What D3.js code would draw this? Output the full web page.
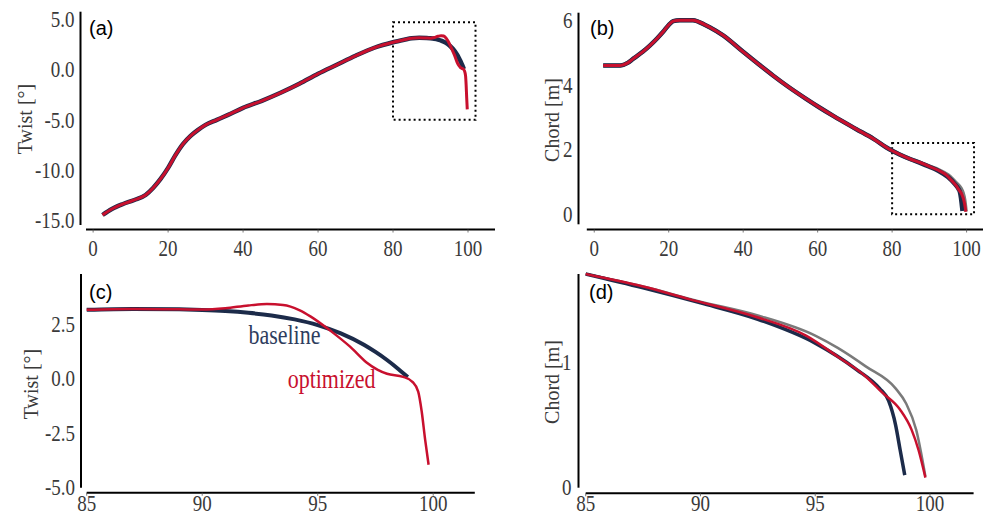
<!DOCTYPE html>
<html><head><meta charset="utf-8">
<script src="https://cdn.jsdelivr.net/npm/d3@7"></script>
<style>body{margin:0;background:#fff} svg{display:block}</style>
</head><body><svg id="c" width="983" height="516"></svg>
<script>
// ---------- data ----------
const twistRootX = [2.5, 5, 8, 11, 14, 16, 18, 20, 22, 24, 26, 28, 30, 33, 36, 40, 45, 50, 55, 60, 65, 70, 75, 80, 83, 85, 87, 89];
const twistRoot  = [-14.5, -13.9, -13.4, -13.0, -12.5, -11.8, -10.9, -9.8, -8.5, -7.4, -6.6, -6.0, -5.5, -5.0, -4.5, -3.8, -3.1, -2.3, -1.4, -0.4, 0.5, 1.4, 2.2, 2.75, 3.0, 3.15, 3.19, 3.17];
const twistBaseTipX = [90, 91, 92, 93, 94, 95, 96, 97, 97.5, 98, 98.5, 98.9];
const twistBaseTip  = [3.14, 3.09, 3.01, 2.89, 2.71, 2.45, 2.07, 1.55, 1.22, 0.85, 0.43, 0.07];
const twistOptTipX  = [90, 91, 92, 92.8, 93.5, 94.2, 94.7, 95.6, 96.4, 97.1, 97.6, 98.0, 98.7, 99.1, 99.35, 99.5, 99.65, 99.8];
const twistOptTip   = [3.16, 3.22, 3.35, 3.41, 3.37, 3.14, 2.84, 2.15, 1.46, 0.75, 0.40, 0.22, 0.08, -0.15, -0.6, -1.5, -2.8, -3.95];

const chordRootX = [2.4, 5, 7, 9, 10.5, 13, 15, 17, 18.5, 20, 21.2, 23, 26.5, 28, 31, 34.6, 40, 44, 48, 52, 57, 60.5, 64.2, 70.4, 75, 79.4, 82, 85];
const chordRoot  = [4.6, 4.6, 4.6, 4.68, 4.81, 5.02, 5.22, 5.45, 5.64, 5.85, 5.97, 6.0, 6.0, 5.95, 5.78, 5.53, 5.02, 4.65, 4.29, 3.95, 3.56, 3.3, 3.04, 2.63, 2.33, 2.0, 1.85, 1.70];
const chordBaseTipX = [87.5, 90, 92.5, 95, 96.8, 97.8, 98.2, 98.5, 98.7, 98.9];
const chordBaseTip  = [1.59, 1.47, 1.34, 1.15, 0.94, 0.79, 0.69, 0.50, 0.30, 0.10];
const chordOptTipX  = [87.5, 89.5, 92.4, 94.6, 96.0, 97.2, 97.9, 98.7, 99.2, 99.5, 99.8];
const chordOptTip   = [1.60, 1.50, 1.36, 1.21, 1.04, 0.885, 0.76, 0.62, 0.46, 0.30, 0.08];
const chordRefTipX  = [87.5, 90, 92.5, 95, 96, 97.2, 98.5, 98.96, 99.4, 99.8];
const chordRefTip   = [1.60, 1.48, 1.37, 1.21, 1.11, 0.965, 0.79, 0.67, 0.46, 0.09];

const xTicksFull = [0, 20, 40, 60, 80, 100];
const xTicksZoom = [85, 90, 95, 100];
const yTicksTwistFull = [-15, -10, -5, 0, 5];
const yTicksChordFull = [0, 2, 4, 6];
const yTicksTwistZoom = [-5, -2.5, 0, 2.5];
const yTicksChordZoom = [0, 1];
const zoomBoxTwist = [80, 102, -5, 4.75];
const zoomBoxChord = [80, 102, 0, 2.2];
const annotationText = ["baseline", "optimized"];
const annotationPos = [[92.0, 1.57], [93.7, -0.42]];
const panelLabels = ["(a)", "(b)", "(c)", "(d)"];

const NAVY = "#1c2b4a", RED = "#c8102e", GRAY = "#7a7a7a";
const SERIF = "'Liberation Serif', 'DejaVu Serif', serif";
const SANS = "'Liberation Sans', Arial, sans-serif";
const STRETCH = 1.22; // reference text is drawn slightly tall

const zip = (xs, ys) => xs.map((x, i) => [x, ys[i]]);
const twistBase = zip(twistRootX.concat(twistBaseTipX), twistRoot.concat(twistBaseTip));
const twistOpt  = zip(twistRootX.concat(twistOptTipX),  twistRoot.concat(twistOptTip));
const chordBase = zip(chordRootX.concat(chordBaseTipX), chordRoot.concat(chordBaseTip));
const chordOpt  = zip(chordRootX.concat(chordOptTipX),  chordRoot.concat(chordOptTip));
const chordRef  = zip(chordRootX.concat(chordRefTipX),  chordRoot.concat(chordRefTip));

const svg = d3.select("#c");

function tallText(g, x, y, txt) {
  return g.append("text").attr("transform", `translate(${x},${y}) scale(1,${STRETCH})`).text(txt);
}

function panel(p) {
  const g = svg.append("g");
  const x = d3.scaleLinear().domain(p.xDom).range(p.xRng);
  const y = d3.scaleLinear().domain(p.yDom).range(p.yRng);
  // spines
  g.append("line").attr("x1", p.spineX).attr("x2", p.spineX)
    .attr("y1", y(p.yDom[0])).attr("y2", y(p.yDom[1]))
    .attr("stroke", "#000").attr("stroke-width", 2);
  g.append("line").attr("x1", x(p.xDom[0])).attr("x2", x(p.xDom[1]))
    .attr("y1", p.axisY).attr("y2", p.axisY)
    .attr("stroke", "#000").attr("stroke-width", 2);
  // x ticks
  p.xTicks.forEach(t => {
    g.append("line").attr("x1", x(t)).attr("x2", x(t)).attr("y1", p.axisY).attr("y2", p.axisY + 3)
      .attr("stroke", "#555").attr("stroke-width", 0.8);
    tallText(g, x(t), p.xLabY, d3.format("d")(t)).attr("text-anchor", "middle")
      .attr("dominant-baseline", "central").attr("font-family", SERIF).attr("font-size", 19)
      .attr("fill", "#3a3a3a");
  });
  p.yTicks.forEach(t => {
    tallText(g, p.spineX - p.yLabGap, y(t), d3.format(p.yFmt)(t).replace("−", "-")).attr("text-anchor", "end")
      .attr("dominant-baseline", "central").attr("font-family", SERIF).attr("font-size", 19)
      .attr("fill", "#3a3a3a");
  });
  // y label
  g.append("text").attr("transform", `translate(${p.ylX},${p.ylY}) rotate(-90)`)
    .attr("text-anchor", "middle").attr("font-family", SERIF).attr("font-size", 20).attr("fill", "#3a3a3a")
    .text(p.ylabel);
  // zoom box
  if (p.box) {
    g.append("rect").attr("x", x(p.box[0])).attr("y", y(p.box[3]))
      .attr("width", x(p.box[1]) - x(p.box[0])).attr("height", y(p.box[2]) - y(p.box[3]))
      .attr("fill", "none").attr("stroke", "#000").attr("stroke-width", 2).attr("stroke-dasharray", "2,3");
  }
  const line = d3.line().x(d => x(d[0])).y(d => y(d[1])).curve(d3.curveMonotoneX);
  p.series.forEach(s => {
    const data = s.data.filter(d => d[0] >= p.xMin);
    g.append("path").datum(data).attr("d", line).attr("fill", "none")
      .attr("stroke", s.color).attr("stroke-width", s.w).attr("stroke-linecap", "butt").attr("stroke-linejoin", "round");
  });
  if (p.annot) {
    p.annot.forEach((a, i) => {
      tallText(g, x(annotationPos[i][0]), y(annotationPos[i][1]), a)
        .attr("font-family", SERIF).attr("font-size", 22).attr("fill", i === 0 ? "#2e3d5e" : RED);
    });
  }
  g.append("text").attr("x", p.plX).attr("y", p.plY).attr("font-family", SANS).attr("font-size", 20)
    .attr("fill", "#000").text(p.plabel);
}

panel({ xDom: [-1.9, 107.2], xRng: [86, 495], yDom: [-15.5, 5.8], yRng: [225, 11.7],
  spineX: 80.5, axisY: 229.5, xTicks: xTicksFull, yTicks: yTicksTwistFull, yFmt: ".1f",
  xLabY: 248, yLabGap: 6, ylabel: "Twist [°]", ylX: 32, ylY: 119, box: zoomBoxTwist, xMin: -10,
  series: [{ data: twistBase, color: NAVY, w: 4.5 }, { data: twistOpt, color: RED, w: 3 }],
  plX: 89, plY: 35, plabel: panelLabels[0] });

panel({ xDom: [-2.0, 107.2], xRng: [586.8, 993.4], yDom: [-0.31, 6.23], yRng: [224.3, 12.7],
  spineX: 578.5, axisY: 229.5, xTicks: xTicksFull, yTicks: yTicksChordFull, yFmt: "d",
  xLabY: 248, yLabGap: 6, ylabel: "Chord [m]", ylX: 559, ylY: 120, box: zoomBoxChord, xMin: -10,
  series: [{ data: chordRef, color: GRAY, w: 4 }, { data: chordBase, color: NAVY, w: 4.5 }, { data: chordOpt, color: RED, w: 3 }],
  plX: 590, plY: 35, plabel: panelLabels[1] });

panel({ xDom: [85, 101.8], xRng: [86.7, 474.8], yDom: [-5.0, 4.79], yRng: [487.7, 274],
  spineX: 81, axisY: 492.7, xTicks: xTicksZoom, yTicks: yTicksTwistZoom, yFmt: ".1f",
  xLabY: 503.5, yLabGap: 6, ylabel: "Twist [°]", ylX: 38, ylY: 384, xMin: 85, annot: annotationText,
  series: [{ data: twistBase, color: NAVY, w: 4 }, { data: twistOpt, color: RED, w: 2.5 }],
  plX: 89, plY: 299, plabel: panelLabels[2] });

panel({ xDom: [85, 101.9], xRng: [585.7, 973.6], yDom: [0, 1.70], yRng: [487.7, 274],
  spineX: 578.5, axisY: 493.3, xTicks: xTicksZoom, yTicks: yTicksChordZoom, yFmt: "d",
  xLabY: 503.5, yLabGap: 7, ylabel: "Chord [m]", ylX: 559, ylY: 382, xMin: 85,
  series: [{ data: chordRef, color: GRAY, w: 2.5 }, { data: chordBase, color: NAVY, w: 3.5 }, { data: chordOpt, color: RED, w: 2.5 }],
  plX: 589, plY: 299, plabel: panelLabels[3] });
</script>
</body></html>
